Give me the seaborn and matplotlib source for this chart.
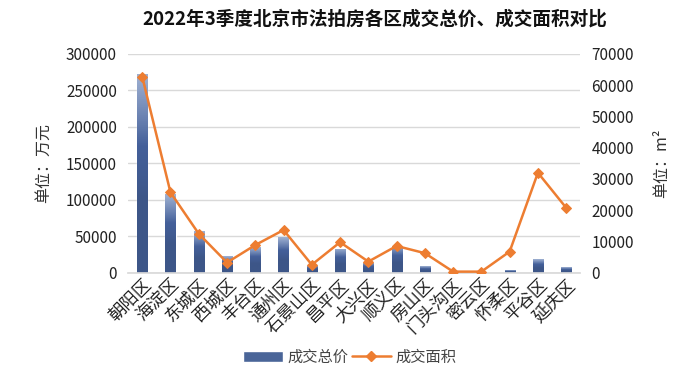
import matplotlib
matplotlib.use("Agg")
import matplotlib.pyplot as plt
import seaborn as sns
import pandas as pd
import numpy as np
from matplotlib.lines import Line2D
from matplotlib.patches import Patch
from matplotlib.colors import LinearSegmentedColormap

# 区县
districts = ["朝阳区", "海淀区", "东城区", "西城区", "丰台区", "通州区", "石景山区", "昌平区",
             "大兴区", "顺义区", "房山区", "门头沟区", "密云区", "怀柔区", "平谷区", "延庆区"]
# 成交总价 (万元)
total_price = [273000, 108000, 57500, 23000, 35000, 49000, 10000, 33000,
               14000, 37000, 9500, 300, 300, 4000, 19000, 8000]
# 成交面积 (m²)
total_area = [62700, 25700, 12500, 3300, 8900, 13700, 2600, 9800,
              3600, 8600, 6300, 400, 400, 6800, 32000, 20800]

df = pd.DataFrame({"区县": districts, "成交总价": total_price, "成交面积": total_area})

sns.set_theme(style="white")
plt.rcParams["font.family"] = ["Noto Sans CJK SC", "DejaVu Sans"]

bar_color = "#4a6598"
line_color = "#ED7D31"
# bars fade from light at the top to dark navy lower down
grad = LinearSegmentedColormap.from_list("bar", ["#3d5688", "#44609a", "#9fb1d2"])

fig = plt.figure(figsize=(7, 3.79), dpi=100)
ax = fig.add_axes([0.183, 0.28, 0.646, 0.578])

sns.barplot(data=df, x="区县", y="成交总价", color=bar_color, width=0.36, ax=ax, saturation=1)
ax.set_ylim(0, 300000)
ax.set_yticks(range(0, 300001, 50000))

# gradient fill clipped to each bar
for p in ax.patches:
    x0, y0 = p.get_x(), p.get_y()
    w, h = p.get_width(), p.get_height()
    if h <= 0:
        continue
    g = np.linspace(0, 1, 100).reshape(-1, 1)
    g = np.clip(g * 1.6 - 0.6, 0, 1) ** 0.8
    im = ax.imshow(g, cmap=grad, aspect="auto", origin="lower",
                   extent=[x0, x0 + w, y0, y0 + h], zorder=p.get_zorder())
    im.set_clip_path(p)
    p.set_facecolor("none")

ax.yaxis.grid(True, color="#d9d9d9", linewidth=1)
ax.set_axisbelow(True)
for s in ["top", "right", "left"]:
    ax.spines[s].set_visible(False)
ax.spines["bottom"].set_color("#d9d9d9")
ax.tick_params(axis="y", length=0, labelsize=11, colors="#222222", pad=8)
ax.tick_params(axis="x", length=0, labelsize=12.5, colors="#222222", pad=2)
plt.setp(ax.get_xticklabels(), rotation=45, ha="right", rotation_mode="anchor")
ax.set_xlabel("")
ax.set_ylabel("单位：万元", fontsize=11.5, color="#333333", labelpad=10)
ax.set_xlim(-0.5, len(districts) - 0.5)
ax.set_ylim(0, 300000)

ax2 = ax.twinx()
sns.lineplot(data=df, x="区县", y="成交面积", color=line_color, marker="D", markersize=5,
             markeredgecolor=line_color, linewidth=1.8, ax=ax2, sort=False)
ax2.set_ylim(0, 70000)
ax2.set_yticks(range(0, 70001, 10000))
for s in ["top", "right", "left", "bottom"]:
    ax2.spines[s].set_visible(False)
ax2.tick_params(axis="y", length=0, labelsize=11, colors="#222222", pad=8)
ax2.set_ylabel("单位：m²", fontsize=11.5, color="#333333", labelpad=14)
ax2.grid(False)
ax2.set_xlim(-0.5, len(districts) - 0.5)

fig.suptitle("2022年3季度北京市法拍房各区成交总价、成交面积对比", fontsize=13.4,
             fontweight="bold", x=0.535, y=0.975, color="#111111")

handles = [Patch(facecolor=bar_color, label="成交总价"),
           Line2D([0], [0], color=line_color, marker="D", markersize=5, linewidth=1.8, label="成交面积")]
fig.legend(handles=handles, loc="center", bbox_to_anchor=(0.5, 0.058), ncol=2, frameon=False,
           fontsize=11, handlelength=2.6, columnspacing=0.2, handletextpad=0.3,
           labelcolor="#444444")

fig.savefig("out.png", dpi=100)
